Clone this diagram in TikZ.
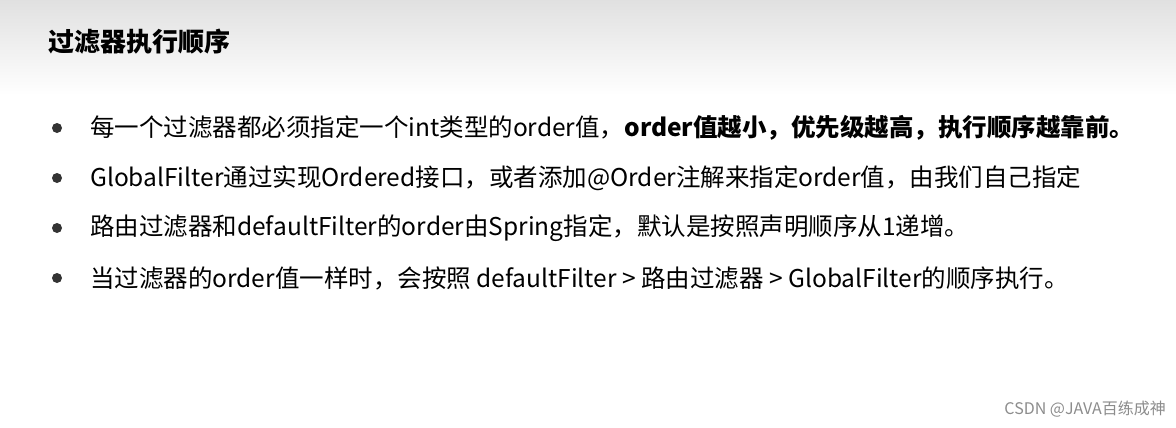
\documentclass[tikz,border=0pt]{standalone}
\usepackage{fontspec}
\setmainfont{Noto Sans CJK SC}
\begin{document}
\begin{tikzpicture}[x=1pt,y=-1pt,
  line/.style={anchor=west,font=\fontsize{24.5}{28}\selectfont,inner sep=0pt},
  dot/.style={circle,fill=black!80,minimum size=10pt,inner sep=0pt}]
\useasboundingbox (0,0) rectangle (1176,428);
\shade[top color=black!12,bottom color=white] (0,0) rectangle (1176,95);
\node[anchor=west,inner sep=0pt,font=\fontsize{26}{30}\selectfont\bfseries] (title) at (48,42) {过滤器执行顺序};
\foreach \i/\y in {1/128,2/178,3/228,4/278}{\node[dot] (b\i) at (57,\y) {};}
\node[line] (l1) at (90,128) {每一个过滤器都必须指定一个int类型的order值，\textbf{order值越小，优先级越高，执行顺序越靠前。}};
\node[line] (l2) at (90,178) {GlobalFilter通过实现Ordered接口，或者添加@Order注解来指定order值，由我们自己指定};
\node[line] (l3) at (90,228) {路由过滤器和defaultFilter的order由Spring指定，默认是按照声明顺序从1递增。};
\node[line] (l4) at (90,278) {当过滤器的order值一样时，会按照 defaultFilter > 路由过滤器 > GlobalFilter的顺序执行。};
\node[anchor=east,inner sep=0pt,text=black!45,font=\fontsize{16}{18}\selectfont] (wm) at (1166,409) {CSDN @JAVA百练成神};
\end{tikzpicture}
\end{document}
